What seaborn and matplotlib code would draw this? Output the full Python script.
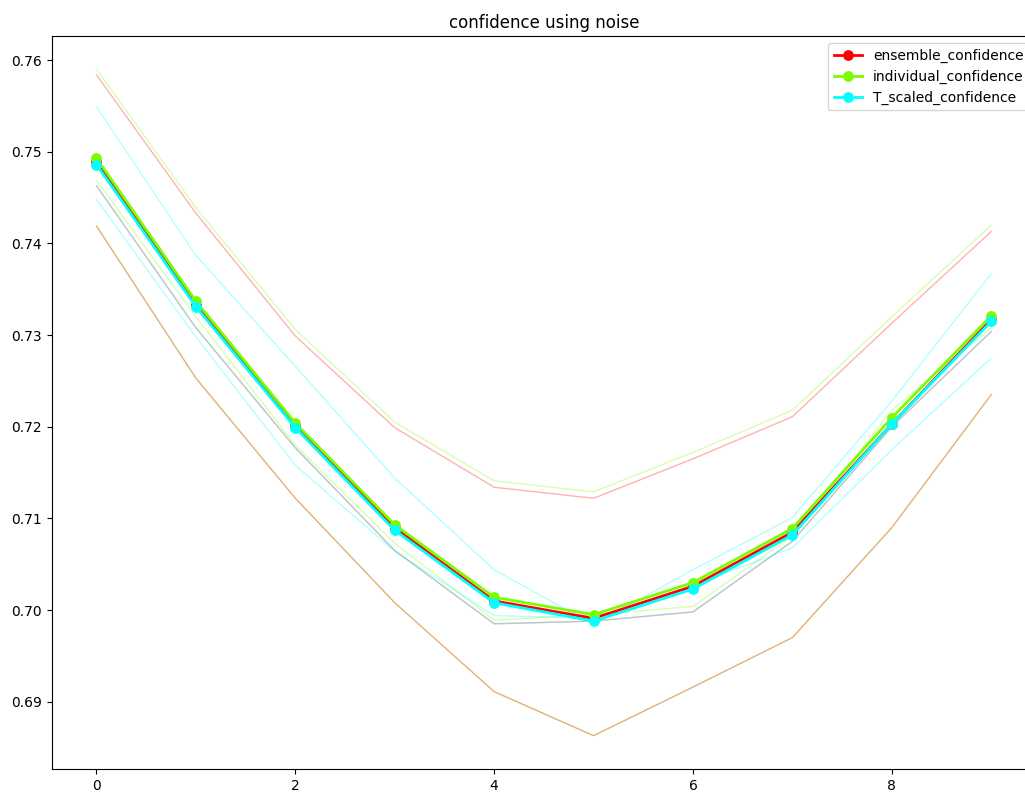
import numpy as np
import seaborn as sns
import matplotlib.pyplot as plt


# Confidence per noise level (x index), mean over runs and the single runs

noise_level = np.arange(10)

ensemble_confidence = [0.7489, 0.7333, 0.7201, 0.7090, 0.7010, 0.6991, 0.7026, 0.7085, 0.7203, 0.7317]
individual_confidence = [0.7493, 0.7337, 0.7204, 0.7093, 0.7014, 0.6995, 0.7030, 0.7089, 0.7210, 0.7321]
T_scaled_confidence = [0.7486, 0.7331, 0.7199, 0.7087, 0.7008, 0.6988, 0.7023, 0.7082, 0.7203, 0.7315]

# single runs (thin lines)
ensemble_runs = [
    [0.7584, 0.7433, 0.7299, 0.7199, 0.7134, 0.7122, 0.7165, 0.7211, 0.7313, 0.7413],
    [0.7419, 0.7253, 0.7122, 0.7008, 0.6911, 0.6863, 0.6916, 0.6970, 0.7090, 0.7235],
    [0.7463, 0.7308, 0.7177, 0.7065, 0.6985, 0.6988, 0.6998, 0.7075, 0.7200, 0.7304],
]
individual_runs = [
    [0.7590, 0.7439, 0.7306, 0.7205, 0.7141, 0.7129, 0.7172, 0.7218, 0.7320, 0.7420],
    [0.7419, 0.7253, 0.7122, 0.7008, 0.6911, 0.6863, 0.6916, 0.6970, 0.7090, 0.7235],
    [0.7469, 0.7320, 0.7180, 0.7073, 0.6989, 0.6995, 0.7004, 0.7081, 0.7218, 0.7308],
]
T_scaled_runs = [
    [0.7549, 0.7387, 0.7266, 0.7144, 0.7044, 0.6984, 0.7044, 0.7101, 0.7228, 0.7367],
    [0.7448, 0.7298, 0.7158, 0.7064, 0.6994, 0.6991, 0.7027, 0.7068, 0.7175, 0.7275],
    [0.7463, 0.7308, 0.7177, 0.7065, 0.6985, 0.6988, 0.6998, 0.7075, 0.7200, 0.7304],
]

series = [
    ('ensemble_confidence', ensemble_confidence, ensemble_runs, 'red'),
    ('individual_confidence', individual_confidence, individual_runs, 'lawngreen'),
    ('T_scaled_confidence', T_scaled_confidence, T_scaled_runs, 'cyan'),
]

fig = plt.figure(figsize=(10.25, 7.93), dpi=100)
# axes run a bit past the right edge, like the original crop
ax = fig.add_axes([0.0505, 0.0303, 0.9602, 0.9243])

# thin lines for each run (green first so red/cyan sit on top where they overlap)
for i in [1, 0, 2]:
    name, mean, runs, color = series[i]
    for run in runs:
        sns.lineplot(x=noise_level, y=run, color=color, alpha=0.3, linewidth=1, ax=ax)

# mean lines with markers
for name, mean, runs, color in series:
    sns.lineplot(x=noise_level, y=mean, color=color, linewidth=2, marker='o',
                 markersize=7, markeredgecolor=color, label=name, ax=ax)

ax.set_title('confidence using noise')
ax.legend(loc='upper right')

plt.savefig('out.png', dpi=100)
